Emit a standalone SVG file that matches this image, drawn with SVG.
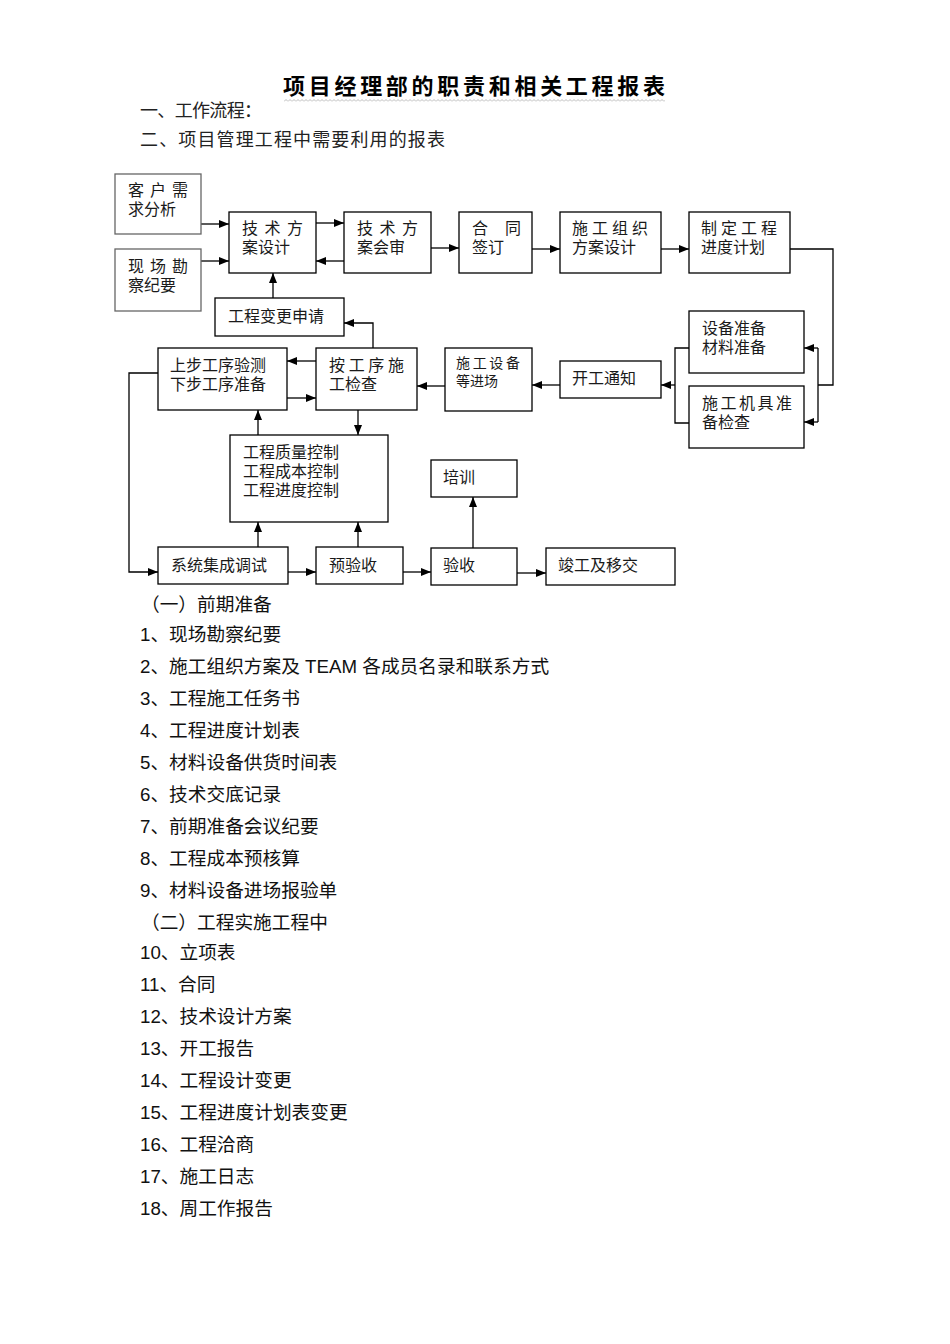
<svg xmlns="http://www.w3.org/2000/svg" width="950" height="1344" viewBox="0 0 950 1344">
<style>
.b{fill:#fff;stroke:#000;stroke-width:1.3}
.g{fill:#fff;stroke:#666;stroke-width:1.3}
.t{font-family:"Noto Sans CJK SC",sans-serif;font-size:16px;fill:#1a1a1a}
.s{font-family:"Noto Sans CJK SC",sans-serif;font-size:14px;fill:#1a1a1a}
.c{fill:none;stroke:#000;stroke-width:1.3}
.a{marker-end:url(#ah)}
.h{font-family:"Liberation Sans","Noto Sans CJK SC",sans-serif;font-size:18px;fill:#222}
.l{font-family:"Liberation Sans","Noto Sans CJK SC",sans-serif;font-size:18.7px;fill:#111}
.ti{font-family:"Noto Sans CJK SC",sans-serif;font-size:22px;font-weight:bold;fill:#000}
</style>
<defs>
<marker id="ah" markerUnits="userSpaceOnUse" markerWidth="10" markerHeight="8" refX="10" refY="4" orient="auto">
<path d="M0,0 L10,4 L0,8 z" fill="#000"/>
</marker>
<pattern id="wv" x="0" y="99" width="4" height="3" patternUnits="userSpaceOnUse">
<path d="M0,2.5 L2,0.5 L4,2.5" fill="none" stroke="#aaa" stroke-width="0.8"/>
</pattern>
</defs>
<rect width="950" height="1344" fill="#fff"/>

<g id="title">
<text class="ti" x="283" y="94" textLength="382" lengthAdjust="spacing">项目经理部的职责和相关工程报表</text>
<rect x="284" y="99" width="381" height="3" fill="url(#wv)"/>
</g>

<g id="headings">
<text class="h" x="140" y="117" textLength="122" lengthAdjust="spacing">一、工作流程：</text>
<text class="h" x="140" y="146" textLength="305" lengthAdjust="spacing">二、项目管理工程中需要利用的报表</text>
</g>

<g id="connectors">
<line class="c a" x1="201" y1="224" x2="229" y2="224"/>
<line class="c a" x1="201" y1="261" x2="229" y2="261"/>
<line class="c a" x1="316" y1="223" x2="344" y2="223"/>
<line class="c a" x1="344" y1="261" x2="316" y2="261"/>
<line class="c a" x1="431" y1="248" x2="459" y2="248"/>
<line class="c a" x1="532" y1="249" x2="560" y2="249"/>
<line class="c a" x1="661" y1="249" x2="689" y2="249"/>
<polyline class="c" points="790,249 833,249 833,385 818,385"/>
<line class="c" x1="818" y1="348" x2="818" y2="422"/>
<line class="c a" x1="818" y1="348" x2="804" y2="348"/>
<line class="c a" x1="818" y1="422" x2="804" y2="422"/>
<polyline class="c" points="689,348 675,348 675,423 689,423"/>
<line class="c a" x1="675" y1="385" x2="661" y2="385"/>
<line class="c a" x1="560" y1="385" x2="532" y2="385"/>
<line class="c a" x1="445" y1="386" x2="417" y2="386"/>
<line class="c a" x1="316" y1="361" x2="287" y2="361"/>
<line class="c a" x1="287" y1="398" x2="316" y2="398"/>
<polyline class="c a" points="373,348 373,323 344,323"/>
<line class="c a" x1="273" y1="298" x2="273" y2="273"/>
<line class="c a" x1="258" y1="435" x2="258" y2="410"/>
<line class="c a" x1="358" y1="410" x2="358" y2="435"/>
<line class="c a" x1="258" y1="547" x2="258" y2="522"/>
<line class="c a" x1="358" y1="547" x2="358" y2="522"/>
<polyline class="c a" points="158,373 129,373 129,572 158,572"/>
<line class="c a" x1="288" y1="572" x2="316" y2="572"/>
<line class="c a" x1="403" y1="572" x2="431" y2="572"/>
<line class="c a" x1="517" y1="573" x2="546" y2="573"/>
<line class="c a" x1="473" y1="548" x2="473" y2="497"/>
</g>

<g id="n-kehu">
<rect class="g" x="115" y="174" width="86" height="60"/>
<text class="t"><tspan x="128" y="196" textLength="60" lengthAdjust="spacing">客 户 需</tspan><tspan x="128" y="215">求分析</tspan></text>
</g>
<g id="n-xianchang">
<rect class="g" x="115" y="249" width="86" height="62"/>
<text class="t"><tspan x="128" y="272" textLength="60" lengthAdjust="spacing">现 场 勘</tspan><tspan x="128" y="291">察纪要</tspan></text>
</g>
<g id="n-jishusheji">
<rect class="b" x="229" y="212" width="87" height="61"/>
<text class="t"><tspan x="242" y="234" textLength="61" lengthAdjust="spacing">技 术 方</tspan><tspan x="242" y="253">案设计</tspan></text>
</g>
<g id="n-jishuhuishen">
<rect class="b" x="344" y="212" width="87" height="61"/>
<text class="t"><tspan x="357" y="234" textLength="61" lengthAdjust="spacing">技 术 方</tspan><tspan x="357" y="253">案会审</tspan></text>
</g>
<g id="n-hetong">
<rect class="b" x="459" y="212" width="73" height="61"/>
<text class="t"><tspan x="472" y="234">合</tspan><tspan x="505" y="234">同</tspan><tspan x="472" y="253">签订</tspan></text>
</g>
<g id="n-shigongzuzhi">
<rect class="b" x="560" y="212" width="101" height="61"/>
<text class="t"><tspan x="572" y="234" textLength="76" lengthAdjust="spacing">施 工 组 织</tspan><tspan x="572" y="253">方案设计</tspan></text>
</g>
<g id="n-zhiding">
<rect class="b" x="689" y="212" width="101" height="61"/>
<text class="t"><tspan x="701" y="234" textLength="76" lengthAdjust="spacing">制 定 工 程</tspan><tspan x="701" y="253">进度计划</tspan></text>
</g>
<g id="n-shebei">
<rect class="b" x="689" y="311" width="115" height="62"/>
<text class="t"><tspan x="702" y="334">设备准备</tspan><tspan x="702" y="353">材料准备</tspan></text>
</g>
<g id="n-jiju">
<rect class="b" x="689" y="386" width="115" height="62"/>
<text class="t"><tspan x="702" y="409" textLength="90" lengthAdjust="spacing">施 工 机 具 准</tspan><tspan x="702" y="428">备检查</tspan></text>
</g>
<g id="n-kaigong">
<rect class="b" x="560" y="361" width="101" height="37"/>
<text class="t" x="572" y="384">开工通知</text>
</g>
<g id="n-jinchang">
<rect class="b" x="445" y="348" width="87" height="63"/>
<text class="s"><tspan x="456" y="368" textLength="64" lengthAdjust="spacing">施 工 设 备</tspan><tspan x="456" y="386">等进场</tspan></text>
</g>
<g id="n-anjiancha">
<rect class="b" x="316" y="348" width="101" height="62"/>
<text class="t"><tspan x="329" y="371" textLength="75" lengthAdjust="spacing">按 工 序 施</tspan><tspan x="329" y="390">工检查</tspan></text>
</g>
<g id="n-shangbu">
<rect class="b" x="158" y="348" width="129" height="62"/>
<text class="t"><tspan x="170" y="371">上步工序验测</tspan><tspan x="170" y="390">下步工序准备</tspan></text>
</g>
<g id="n-biangeng">
<rect class="b" x="215" y="298" width="129" height="38"/>
<text class="t" x="228" y="322">工程变更申请</text>
</g>
<g id="n-kongzhi">
<rect class="b" x="230" y="435" width="158" height="87"/>
<text class="t"><tspan x="243" y="458">工程质量控制</tspan><tspan x="243" y="477">工程成本控制</tspan><tspan x="243" y="496">工程进度控制</tspan></text>
</g>
<g id="n-peixun">
<rect class="b" x="431" y="460" width="86" height="37"/>
<text class="t" x="443" y="483">培训</text>
</g>
<g id="n-xitong">
<rect class="b" x="158" y="547" width="130" height="37"/>
<text class="t" x="171" y="571">系统集成调试</text>
</g>
<g id="n-yuyanshou">
<rect class="b" x="316" y="547" width="87" height="37"/>
<text class="t" x="329" y="571">预验收</text>
</g>
<g id="n-yanshou">
<rect class="b" x="431" y="548" width="86" height="37"/>
<text class="t" x="443" y="571">验收</text>
</g>
<g id="n-jungong">
<rect class="b" x="546" y="548" width="129" height="37"/>
<text class="t" x="558" y="571">竣工及移交</text>
</g>

<g id="list">
<text class="l" x="141" y="611">（一）前期准备</text>
<text class="l" x="140" y="641">1、现场勘察纪要</text>
<text class="l" x="140" y="673">2、施工组织方案及 TEAM 各成员名录和联系方式</text>
<text class="l" x="140" y="705">3、工程施工任务书</text>
<text class="l" x="140" y="737">4、工程进度计划表</text>
<text class="l" x="140" y="769">5、材料设备供货时间表</text>
<text class="l" x="140" y="801">6、技术交底记录</text>
<text class="l" x="140" y="833">7、前期准备会议纪要</text>
<text class="l" x="140" y="865">8、工程成本预核算</text>
<text class="l" x="140" y="897">9、材料设备进场报验单</text>
<text class="l" x="141" y="929">（二）工程实施工程中</text>
<text class="l" x="140" y="959">10、立项表</text>
<text class="l" x="140" y="991">11、合同</text>
<text class="l" x="140" y="1023">12、技术设计方案</text>
<text class="l" x="140" y="1055">13、开工报告</text>
<text class="l" x="140" y="1087">14、工程设计变更</text>
<text class="l" x="140" y="1119">15、工程进度计划表变更</text>
<text class="l" x="140" y="1151">16、工程洽商</text>
<text class="l" x="140" y="1183">17、施工日志</text>
<text class="l" x="140" y="1215">18、周工作报告</text>
</g>
</svg>
